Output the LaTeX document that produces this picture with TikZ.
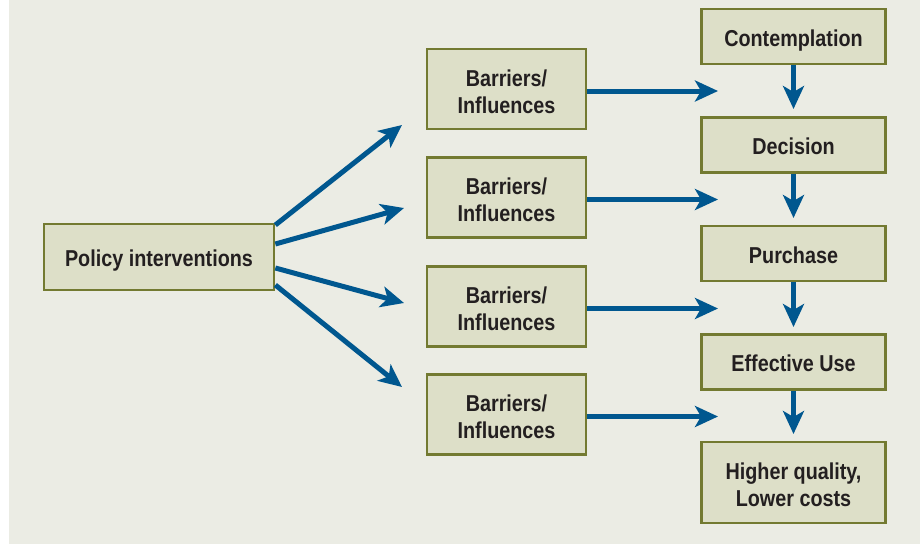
\documentclass[tikz,border=0pt]{standalone}
\usepackage{fontspec}
\setmainfont{Liberation Sans}[FakeStretch=0.86]
\usetikzlibrary{arrows.meta}
\definecolor{bgcol}{HTML}{EBECE4}
\definecolor{boxfill}{HTML}{DDDFC8}
\definecolor{boxline}{HTML}{737A31}
\definecolor{arrowcol}{HTML}{00578F}
\definecolor{textcol}{HTML}{231F20}
\tikzset{
  box/.style={draw=boxline, fill=boxfill, line width=2.7pt, align=center,
    inner sep=0pt, text=textcol, text height=19pt, text depth=0pt,
    font=\fontsize{23}{26.7}\selectfont\bfseries},
  twoline/.style={text height=48pt},
  stage/.style={box, minimum width=184pt, minimum height=55pt},
  barrier/.style={box, twoline, minimum width=159pt, minimum height=80pt},
  flow/.style={draw=arrowcol, line width=5pt,
    -{Stealth[length=23pt, width=21pt, inset=6pt]}}
}

\begin{document}
\begin{tikzpicture}[x=1pt, y=-1pt]
\useasboundingbox (0,0) rectangle (920,544);
\fill [bgcol] (9,0) rectangle (920,544);

\node (policy) at (159,257) [box, minimum width=230pt, minimum height=66pt] {Policy interventions};

\node (bar1) at (506.5,89) [barrier] {Barriers/\\Influences};
\node (bar2) at (506.5,197.5) [barrier] {Barriers/\\Influences};
\node (bar3) at (506.5,306.5) [barrier] {Barriers/\\Influences};
\node (bar4) at (506.5,414.5) [barrier] {Barriers/\\Influences};

\node (contemp) at (793.5,36.5) [stage] {Contemplation};
\node (decision) at (793.5,145) [stage] {Decision};
\node (purchase) at (793.5,253.5) [stage] {Purchase};
\node (effuse) at (793.5,362) [stage] {Effective Use};
\node (outcome) at (793.5,482.5) [stage, twoline, minimum height=81pt] {Higher quality,\\Lower costs};

\coordinate (f1) at (402,125);
\coordinate (f2) at (404,208);
\coordinate (f3) at (404,303);
\coordinate (f4) at (402,387);

\coordinate (h1) at (718,91);
\coordinate (h2) at (718,199.5);
\coordinate (h3) at (718,308.5);
\coordinate (h4) at (718,416.5);

\coordinate (v1) at (793.5,109);
\coordinate (v2) at (793.5,218);
\coordinate (v3) at (793.5,327);
\coordinate (v4) at (793.5,434);

\draw [flow] ([yshift=32pt]policy.east) -- (f1);
\draw [flow] ([yshift=13pt]policy.east) -- (f2);
\draw [flow] ([yshift=-11pt]policy.east) -- (f3);
\draw [flow] ([yshift=-28pt]policy.east) -- (f4);

\draw [flow] (bar1.east |- h1) -- (h1);
\draw [flow] (bar2.east |- h2) -- (h2);
\draw [flow] (bar3.east |- h3) -- (h3);
\draw [flow] (bar4.east |- h4) -- (h4);

\draw [flow] (contemp) -- (v1);
\draw [flow] (decision) -- (v2);
\draw [flow] (purchase) -- (v3);
\draw [flow] (effuse) -- (v4);

\end{tikzpicture}
\end{document}
